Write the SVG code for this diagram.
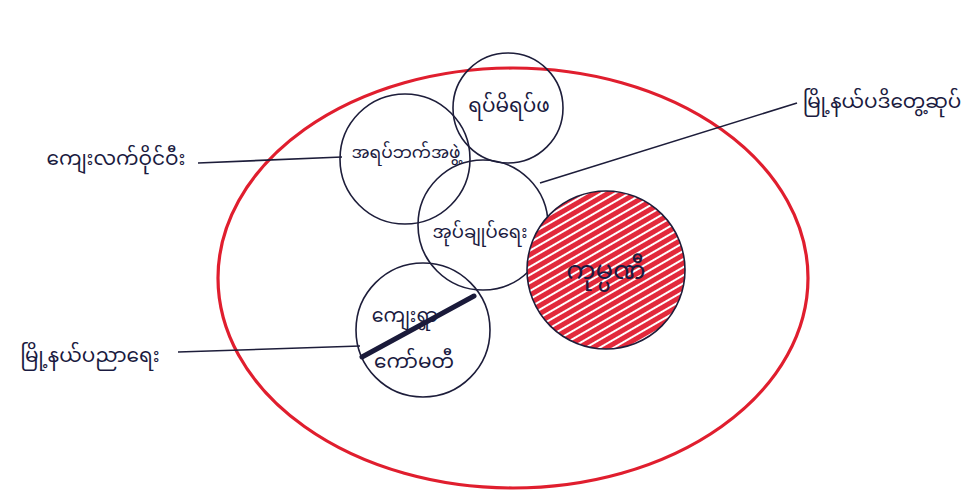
<svg xmlns="http://www.w3.org/2000/svg" width="978" height="493" viewBox="0 0 978 493">
<defs>
<pattern id="hatch" width="7" height="7" patternUnits="userSpaceOnUse" patternTransform="rotate(-30)">
<rect width="7" height="7" fill="#ffffff"/>
<rect width="7" height="5" fill="#e2293b"/>
</pattern>
<style>
.c{fill:none;stroke:#1d1d3a;stroke-width:1.6}
.t{font-family:"Noto Sans Myanmar","Padauk","Myanmar Text","Noto Sans","DejaVu Sans",sans-serif;font-size:20px;fill:#1a1a40;text-anchor:middle}
.ln{fill:none;stroke:#1d1d3a;stroke-width:1.6}
</style>
</defs>
<rect width="978" height="493" fill="#ffffff"/>
<g id="outer">
<ellipse cx="513" cy="278" rx="295" ry="210" fill="none" stroke="#e01e2e" stroke-width="3.2"/>
</g>
<g id="connectors">
<line class="ln" x1="198" y1="163" x2="342" y2="157"/>
<line class="ln" x1="797" y1="103" x2="540" y2="183"/>
<line class="ln" x1="178" y1="352" x2="360" y2="346"/>
</g>
<g id="nodeA">
<circle class="c" cx="405" cy="159" r="65"/>
<text class="t" x="406" y="158" style="font-size:17px">အရပ်ဘက်အဖွဲ့</text>
</g>
<g id="nodeB">
<circle class="c" cx="508" cy="108" r="55"/>
<text class="t" x="509" y="112">ရပ်မိရပ်ဖ</text>
</g>
<g id="nodeC">
<circle class="c" cx="483" cy="225" r="65"/>
<text class="t" x="480" y="238" style="font-size:18px">အုပ်ချုပ်ရေး</text>
</g>
<g id="nodeD">
<circle cx="606" cy="270" r="79" fill="url(#hatch)" stroke="#1d1d3a" stroke-width="1.6"/>
<text class="t" x="606" y="279" style="font-size:26px">ကုမ္ပဏီ</text>
</g>
<g id="nodeE">
<circle class="c" cx="423" cy="330" r="67"/>
<text class="t" x="405" y="322" style="font-size:19px">ကျေးရွာ</text>
<text class="t" x="414" y="368" style="font-size:20px">ကော်မတီ</text>
<line x1="362" y1="357" x2="474" y2="296" stroke="#1a1a3a" stroke-width="5" stroke-linecap="round"/>
</g>
<g id="labelLeft">
<text class="t" x="116" y="165">ကျေးလက်ဝိုင်ဝီး</text>
</g>
<g id="labelRight">
<text class="t" x="882" y="108">မြို့နယ်ပဒိတွေ့ဆုပ်</text>
</g>
<g id="labelBottomLeft">
<text class="t" x="90" y="362">မြို့နယ်ပညာရေး</text>
</g>
</svg>
